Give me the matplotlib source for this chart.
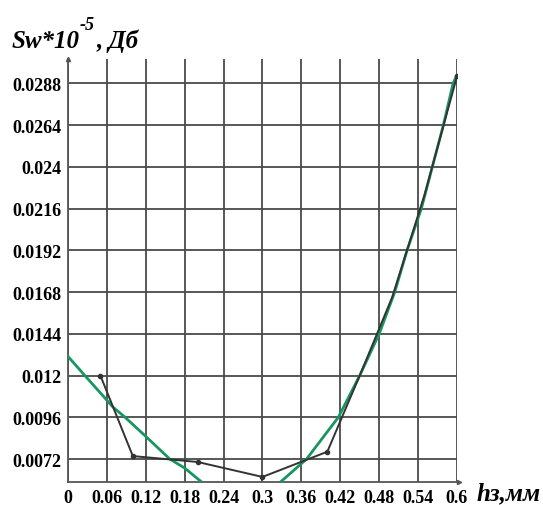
import matplotlib.pyplot as plt

# measured points (black polyline)
h_pts = [0.05, 0.1, 0.2, 0.3, 0.4, 0.45, 0.5, 0.55, 0.6]
sw_pts = [0.0120, 0.00737, 0.00703, 0.00617, 0.00762, 0.0120, 0.0165, 0.0224, 0.0292]

# trend curve (green)
h_fit = [0.0, 0.026, 0.05, 0.069, 0.088, 0.12, 0.157, 0.18, 0.208, 0.235, 0.267,
         0.30, 0.326, 0.368, 0.417, 0.45, 0.48, 0.504, 0.523, 0.545, 0.562,
         0.579, 0.594, 0.6]
sw_fit = [0.0131, 0.0120, 0.0110, 0.0102, 0.0096, 0.0085, 0.0072, 0.00668, 0.00582,
          0.0052, 0.0049, 0.0051, 0.00582, 0.0072, 0.0096, 0.0120, 0.0144, 0.0168,
          0.0192, 0.0216, 0.0240, 0.0264, 0.0288, 0.0293]

xticks = [0, 0.06, 0.12, 0.18, 0.24, 0.3, 0.36, 0.42, 0.48, 0.54, 0.6]
xticklabels = ['0', '0.06', '0.12', '0.18', '0.24', '0.3', '0.36', '0.42', '0.48', '0.54', '0.6']
yticks = [0.0072, 0.0096, 0.012, 0.0144, 0.0168, 0.0192, 0.0216, 0.024, 0.0264, 0.0288]
yticklabels = ['0.0072', '0.0096', '0.012', '0.0144', '0.0168', '0.0192', '0.0216',
               '0.024', '0.0264', '0.0288']

plt.rcParams['font.family'] = ['Liberation Serif', 'DejaVu Serif']

fig = plt.figure(figsize=(5.43, 5.06), dpi=100)
ax = fig.add_axes([0.1252, 0.0455, 0.8416 - 0.1252, 0.8814 - 0.0455])

ax.set_xlim(0, 0.6)
ax.set_ylim(0.00588, 0.0302)

ax.set_xticks(xticks)
ax.set_xticklabels(xticklabels, fontsize=13, fontweight='bold')
ax.set_yticks(yticks)
ax.set_yticklabels(yticklabels, fontsize=13, fontweight='bold')
ax.tick_params(length=0, pad=5)

ax.grid(True, color='#4a4a4a', linewidth=1.3)
ax.set_axisbelow(True)
for s in ['top', 'right']:
    ax.spines[s].set_visible(False)
for s in ['left', 'bottom']:
    ax.spines[s].set_color('#555555')
    ax.spines[s].set_linewidth(1.3)

ax.plot(h_fit, sw_fit, color='#17965f', linewidth=2.0, zorder=3)
ax.plot(h_pts, sw_pts, color='#333333', linewidth=1.4, zorder=4)
ax.plot(h_pts[:5] + h_pts[-1:], sw_pts[:5] + sw_pts[-1:], linestyle='none',
        marker='o', markersize=3, color='#333333', zorder=4)

# small arrow heads at axis ends
ax.plot([0], [1.0], marker='^', markersize=3, color='#555555', transform=ax.transAxes, clip_on=False)
ax.plot([1.006], [0], marker='>', markersize=3, color='#555555', transform=ax.transAxes, clip_on=False)

fig.text(12 / 543, 1 - 48 / 506, 'Sw*10', fontsize=18, fontweight='bold', fontstyle='italic')
fig.text(80 / 543, 1 - 30 / 506, '-5', fontsize=13, fontweight='bold', fontstyle='italic')
fig.text(97 / 543, 1 - 48 / 506, ', Дб', fontsize=18, fontweight='bold', fontstyle='italic')
fig.text(477 / 543, 1 - 500 / 506, 'hз,мм', fontsize=18, fontweight='bold', fontstyle='italic')

plt.savefig('out.png')
